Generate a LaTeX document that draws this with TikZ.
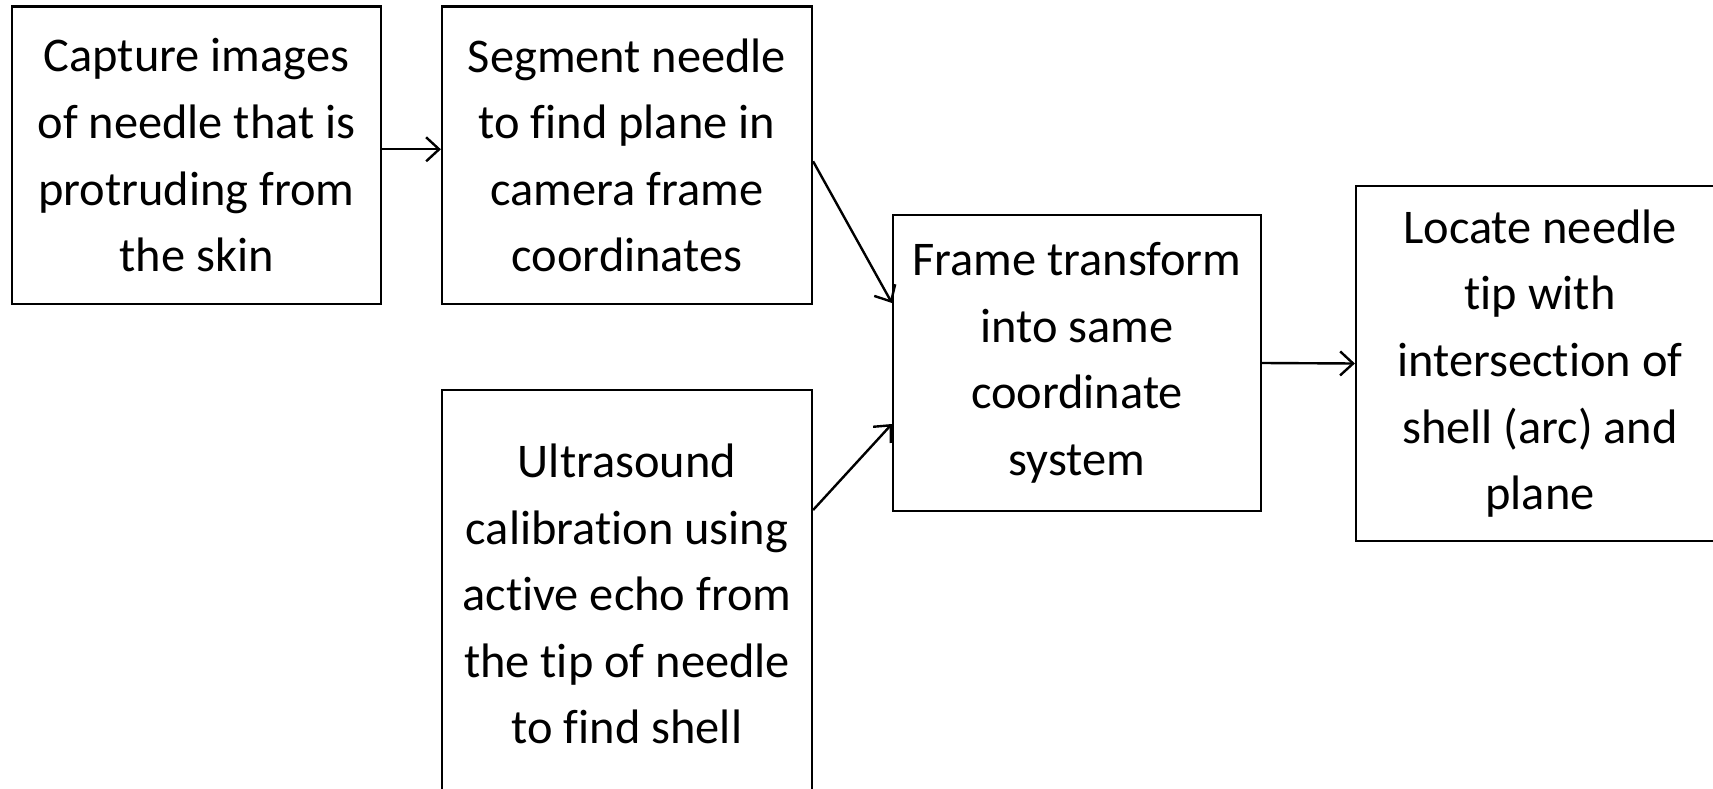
\documentclass[tikz,border=0pt]{standalone}
\usepackage{fontspec}
\setmainfont{Carlito}[Ligatures={NoCommon}]
\usetikzlibrary{arrows.meta}
\begin{document}
\begin{tikzpicture}[x=1pt, y=-1pt,
  box/.style={draw, line width=2.2pt, inner sep=0pt, align=center,
    font=\fontsize{48.4}{66.6}\selectfont},
  arr/.style={line width=2.4pt, -{Straight Barb[length=13pt, width=24pt]}}]
\useasboundingbox (0,0) rectangle (1713,789);
\clip (0,0) rectangle (1713,789);
\node (capture) at (196.5,155.3) [box, minimum width=369pt, minimum height=297.5pt]
  {Capture images\\of needle that is\\protruding from\\the skin};
\node (segment) at (627,155.3) [box, minimum width=370pt, minimum height=297.5pt]
  {Segment needle\\to find plane in\\camera frame\\coordinates};
\node (ultra) at (627,594) [box, minimum width=370pt, minimum height=408pt]
  {Ultrasound\\calibration using\\active echo from\\the tip of needle\\to find shell};
\node (frame) at (1077,363) [box, minimum width=368pt, minimum height=296pt]
  {Frame transform\\into same\\coordinate\\system};
\node (locate) at (1540,363.5) [box, minimum width=368pt, minimum height=355pt]
  {Locate needle\\tip with\\intersection of\\shell (arc) and\\plane};
% arrows
\draw[arr] ([yshift=6pt]capture.east) -- ([yshift=6pt]segment.west);
\draw[arr] ([yshift=-6pt]segment.east) -- ([yshift=60pt]frame.west);
\draw[arr] ([yshift=84pt]ultra.east) -- ([yshift=-61pt]frame.west);
\draw[arr] (frame.east) -- (locate.west);
\end{tikzpicture}
\end{document}
